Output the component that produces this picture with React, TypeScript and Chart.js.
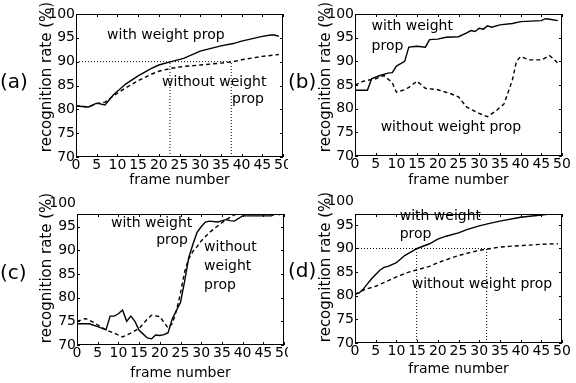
import React, { useEffect, useRef } from "react";
import { Chart, registerables } from "chart.js";
Chart.register(...registerables);

const FONT = "'DejaVu Sans', sans-serif";

// ---------- data ----------
const xTicks = [0, 5, 10, 15, 20, 25, 30, 35, 40, 45, 50];
const yTicks = [70, 75, 80, 85, 90, 95, 100];

// (a)
const framesA = [0, 3, 5, 7, 9, 12, 15, 18, 20, 23, 26, 30, 35, 38, 40, 45, 47, 48, 49];
const withA = [80.7, 80.5, 81.3, 80.9, 83, 85.3, 87, 88.5, 89.3, 90, 90.7, 92.2, 93.3, 93.8, 94.3, 95.3, 95.6, 95.6, 95.3];
const withoutA = [80.7, 80.5, 81.2, 81.5, 82.8, 84.5, 86, 87.3, 88, 88.6, 89, 89.3, 89.7, 90, 90.4, 91.1, 91.3, 91.4, 91.5];
const guideA = [22.7, 37.5];

// (b)
const framesBWith = [0, 3, 4, 6, 8, 9, 10, 12, 13, 15, 17, 18, 20, 22, 25, 27, 28, 29, 30, 31, 32, 33, 35, 38, 40, 45, 46, 47, 49];
const withB = [83.9, 83.9, 86.3, 87, 87.5, 87.6, 89, 90, 93, 93.2, 93, 94.6, 94.7, 95.1, 95.2, 96, 96.5, 96.3, 97, 96.8, 97.5, 97.2, 97.7, 98, 98.4, 98.6, 99, 98.9, 98.6];
const framesBWithout = [0, 2, 5, 7, 9, 10, 12, 13, 15, 17, 20, 23, 25, 27, 30, 32, 34, 36, 38, 39, 40, 42, 45, 47, 48, 49];
const withoutB = [85, 85.8, 86.3, 87, 85.5, 83.5, 84, 84.5, 85.8, 84.3, 84, 83.2, 82.5, 80.3, 79, 78.3, 79.5, 81, 86, 90, 91, 90.3, 90.3, 91.2, 90.5, 89.6];

// (c)
const framesCWith = [0, 3, 5, 7, 8, 9, 10, 11, 12, 13, 14, 15, 16, 17, 18, 19, 20, 21, 22, 23, 24, 25, 26, 27, 28, 29, 30, 31, 32, 34, 36, 37, 38, 40, 45, 47, 48, 49];
const withC = [74.5, 74.5, 73.9, 73.2, 76.1, 76.1, 76.6, 77.4, 75, 76.1, 75, 73.1, 72.3, 71.5, 71.3, 72.1, 72, 72.2, 72.6, 75.5, 77.3, 79, 83.5, 88.5, 91.3, 93.8, 95, 96, 96.2, 96, 96.5, 96.3, 96.2, 97.3, 97.3, 97.3, 97.8, 97.5];
const framesCWithout = [0, 2, 4, 6, 7, 9, 11, 13, 15, 17, 18, 20, 22, 23, 24, 25, 26, 27, 28, 29, 30, 32, 34, 36, 38, 40, 42, 45, 47, 48, 49];
const withoutC = [75, 75.6, 74.8, 73.7, 73.2, 72.5, 71.7, 72.5, 73.5, 75.5, 76.3, 76, 73.6, 74.5, 77.2, 81, 85.5, 88.3, 89.8, 90.8, 92, 93.8, 95.2, 96.5, 97.5, 98, 98, 97.7, 97.8, 98.2, 98];

// (d)
const framesDWith = [0, 1, 2, 3, 4, 5, 6, 7, 8, 10, 12, 15, 18, 20, 22, 25, 27, 30, 32, 35, 40, 45, 49];
const withD = [80.35, 80.6, 81.4, 82.5, 83.6, 84.5, 85.4, 86, 86.2, 87, 88.5, 90, 91, 92, 92.6, 93.3, 94, 94.8, 95.2, 95.8, 96.6, 97.1, 97.5];
const framesDWithout = [0, 1, 2, 3, 5, 7, 10, 13, 15, 18, 20, 23, 25, 28, 30, 32, 35, 38, 40, 45, 49];
const withoutD = [80.3, 80.7, 81.2, 81.5, 82, 82.8, 84, 85, 85.5, 86.2, 87, 87.9, 88.5, 89.2, 89.6, 89.9, 90.3, 90.5, 90.6, 90.9, 91];
const guideD = [14.9, 31.8];

const guideLevel = 90;

const xTitle = "frame number";
const yTitle = "recognition rate (%)";

// ---------- helpers ----------
const pts = (xs: number[], ys: number[]) => xs.map((x, i) => ({ x, y: ys[i] }));

type Note = { text: string; x: number; y: number; align?: CanvasTextAlign };
type Panel = {
  id: string;
  label: string;
  left: number; top: number; w: number; h: number;
  areaLeft: number; areaRight: number; areaTop: number; areaBottom: number;
  yMax: number;
  extraTop?: boolean;
  xTitlePad: number;
  yTitleX: number;
  yTitleY: number;
  labelY: number;
  withX: number[]; withY: number[];
  withoutX: number[]; withoutY: number[];
  guides?: number[];
  notes: Note[];
};

const panels: Panel[] = [
  {
    id: "a", label: "(a)", left: 0, top: 0, w: 288, h: 191,
    areaLeft: 76, areaRight: 283, areaTop: 14, areaBottom: 157, yMax: 100,
    xTitlePad: 2.6, yTitleX: 47, yTitleY: 77, labelY: 83,
    withX: framesA, withY: withA, withoutX: framesA, withoutY: withoutA, guides: guideA,
    notes: [
      { text: "with weight prop", x: 7.5, y: 95.6 },
      { text: "without weight", x: 20.8, y: 85.7 },
      { text: "prop", x: 37.7, y: 82 },
    ],
  },
  {
    id: "b", label: "(b)", left: 288, top: 0, w: 288, h: 191,
    areaLeft: 67, areaRight: 274, areaTop: 14, areaBottom: 156, yMax: 100,
    xTitlePad: 2.6, yTitleX: 38, yTitleY: 77, labelY: 83,
    withX: framesBWith, withY: withB, withoutX: framesBWithout, withoutY: withoutB,
    notes: [
      { text: "with weight", x: 4, y: 97.3 },
      { text: "prop", x: 4, y: 93.1 },
      { text: "without weight prop", x: 6.2, y: 76.1 },
    ],
  },
  {
    id: "c", label: "(c)", left: 0, top: 191, w: 288, h: 192,
    areaLeft: 77, areaRight: 284, areaTop: 23, areaBottom: 154, yMax: 97.7, extraTop: true,
    xTitlePad: 1.6, yTitleX: 47, yTitleY: 77, labelY: 83,
    withX: framesCWith, withY: withC, withoutX: framesCWithout, withoutY: withoutC,
    notes: [
      { text: "with weight", x: 8.2, y: 95.8 },
      { text: "prop", x: 26.8, y: 92.1, align: "right" },
      { text: "without", x: 30.7, y: 90.6 },
      { text: "weight", x: 30.7, y: 86.6 },
      { text: "prop", x: 30.7, y: 82.6 },
    ],
  },
  {
    id: "d", label: "(d)", left: 288, top: 191, w: 288, h: 192,
    areaLeft: 67, areaRight: 274, areaTop: 23, areaBottom: 152, yMax: 97.3, extraTop: true,
    xTitlePad: 5.6, yTitleX: 38, yTitleY: 76, labelY: 81,
    withX: framesDWith, withY: withD, withoutX: framesDWithout, withoutY: withoutD, guides: guideD,
    notes: [
      { text: "with weight", x: 10.8, y: 96.9 },
      { text: "prop", x: 10.8, y: 92.9 },
      { text: "without weight prop", x: 13.7, y: 82.4 },
    ],
  },
];

function buildChart(canvas: HTMLCanvasElement, p: Panel) {
  const datasets: any[] = [
    {
      data: pts(p.withX, p.withY),
      borderColor: "#000", borderWidth: 1.4, pointRadius: 0, tension: 0,
    },
    {
      data: pts(p.withoutX, p.withoutY),
      borderColor: "#000", borderWidth: 1.4, borderDash: [4, 3], pointRadius: 0, tension: 0,
    },
  ];
  if (p.guides) {
    const dotted = { borderColor: "#000", borderWidth: 1, borderDash: [1, 2], pointRadius: 0 };
    datasets.push({ ...dotted, data: [{ x: 0, y: guideLevel }, { x: Math.max(...p.guides), y: guideLevel }] });
    p.guides.forEach((g) => {
      datasets.push({ ...dotted, data: [{ x: g, y: 70 }, { x: g, y: guideLevel }] });
    });
  }

  const decor = {
    id: "decor" + p.id,
    afterDraw(chart: any) {
      const { ctx, chartArea: a, scales } = chart;
      ctx.save();
      ctx.strokeStyle = "#000";
      ctx.lineWidth = 1;
      ctx.strokeRect(a.left + 0.5, a.top + 0.5, a.right - a.left - 1, a.bottom - a.top - 1);
      ctx.beginPath();
      const tl = 3;
      xTicks.forEach((v) => {
        const px = Math.round(scales.x.getPixelForValue(v)) + 0.5;
        ctx.moveTo(px, a.top); ctx.lineTo(px, a.top + tl);
        ctx.moveTo(px, a.bottom); ctx.lineTo(px, a.bottom - tl);
      });
      yTicks.forEach((v) => {
        if (v < scales.y.min || v > scales.y.max) return;
        const py = Math.round(scales.y.getPixelForValue(v)) + 0.5;
        ctx.moveTo(a.left, py); ctx.lineTo(a.left + tl, py);
        ctx.moveTo(a.right, py); ctx.lineTo(a.right - tl, py);
      });
      ctx.stroke();
      ctx.fillStyle = "#000";
      ctx.font = `14px ${FONT}`;
      ctx.textBaseline = "middle";
      p.notes.forEach((n) => {
        ctx.textAlign = n.align || "left";
        ctx.fillText(n.text, scales.x.getPixelForValue(n.x), scales.y.getPixelForValue(n.y));
      });
      // y-axis title
      ctx.save();
      ctx.translate(p.yTitleX, p.yTitleY);
      ctx.rotate(-Math.PI / 2);
      ctx.textAlign = "center";
      ctx.font = `15px ${FONT}`;
      ctx.fillText(yTitle, 0, 0);
      ctx.restore();
      // panel label
      ctx.font = `20px ${FONT}`;
      ctx.textAlign = "left";
      ctx.fillText(p.label, 0, p.labelY);
      ctx.restore();
    },
  };

  const tickFont = { family: FONT, size: 14 };
  return new Chart(canvas, {
    type: "line",
    data: { datasets },
    plugins: [decor],
    options: {
      animation: false,
      responsive: false,
      maintainAspectRatio: false,
      layout: { padding: { left: 0, top: p.areaTop, right: p.w - p.areaRight, bottom: 0 } },
      plugins: { legend: { display: false }, tooltip: { enabled: false } },
      scales: {
        x: {
          type: "linear", min: 0, max: 50,
          afterBuildTicks: (s: any) => { s.ticks = xTicks.map((v) => ({ value: v })); },
          ticks: { font: tickFont, color: "#000", padding: 0, maxRotation: 0, autoSkip: false },
          grid: { display: false, drawTicks: false },
          border: { display: false },
          title: { display: true, text: xTitle, font: tickFont, color: "#000", padding: { top: 0, bottom: p.xTitlePad } },
          afterFit: (s: any) => {
            s.height = p.h - p.areaBottom;
            s.paddingLeft = 0; s.paddingRight = 0; s.paddingTop = 0; s.paddingBottom = 0;
          },
        },
        y: {
          type: "linear", min: 70, max: p.yMax,
          afterBuildTicks: (s: any) => {
            s.ticks = yTicks.filter((v) => v <= p.yMax || p.extraTop).map((v) => ({ value: v }));
          },
          ticks: { font: tickFont, color: "#000", padding: 1, autoSkip: false },
          grid: { display: false, drawTicks: false },
          border: { display: false },
          title: { display: false },
          afterFit: (s: any) => {
            s.width = p.areaLeft;
            s.paddingLeft = 0; s.paddingRight = 0; s.paddingTop = 0; s.paddingBottom = 0;
          },
        },
      },
    } as any,
  });
}

function PanelChart({ p }: { p: Panel }) {
  const ref = useRef<HTMLCanvasElement | null>(null);
  useEffect(() => {
    if (!ref.current) return;
    const c = buildChart(ref.current, p);
    return () => c.destroy();
  }, [p]);
  return (
    <canvas
      ref={ref}
      width={p.w}
      height={p.h}
      style={{ position: "absolute", left: p.left, top: p.top, width: p.w, height: p.h }}
    />
  );
}

export default function App() {
  return (
    <div style={{ position: "fixed", left: 0, top: 0, width: 576, height: 383, background: "#fff", overflow: "hidden" }}>
      {panels.map((p) => (
        <PanelChart key={p.id} p={p} />
      ))}
    </div>
  );
}
